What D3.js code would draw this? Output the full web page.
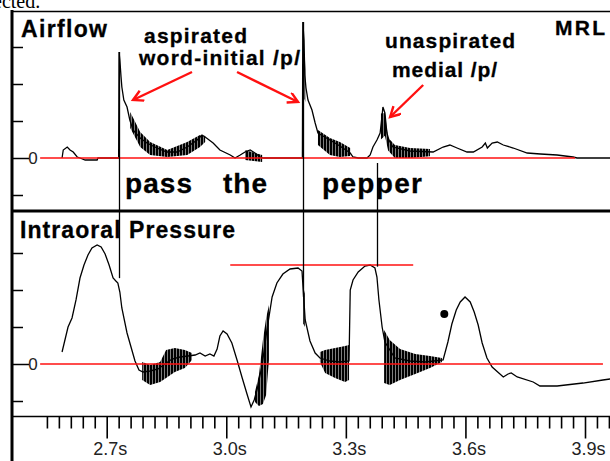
<!DOCTYPE html>
<html><head><meta charset="utf-8">
<script src="https://cdn.jsdelivr.net/npm/d3@7"></script>
<style>body{margin:0;background:#fff}svg{display:block}</style>
</head><body>
<svg id="c" width="610" height="461"></svg>
<script>
// ---------- DATA ----------
const timeTicks = [2.7, 3.0, 3.3, 3.6, 3.9];
const minorStep = 0.03, minorStart = 2.55, minorEnd = 3.96;
const airflowTicks = [-1, 0, 1, 2, 3];
const pressureTicks = [-1, 0, 1, 2, 3];
const words = ["pass", "the", "pepper"];

// airflow trace [time s, value]
const airflow = [[2.588,0],[2.591,0.216],[2.601,0.297],[2.608,0.216],[2.616,0.162],[2.626,0.027],[2.633,0],[2.646,-0.054],[2.676,-0.054],[2.678,0],[2.730,0],[2.731,2.865],[2.733,2.649],[2.736,2.189],[2.738,1.919],[2.743,1.568],[2.751,1.378],[2.758,1.027],[2.766,0.757],[2.784,0.541],[2.801,0.405],[2.826,0.270],[2.851,0.162],[2.877,0.162],[2.902,0.297],[2.927,0.486],[2.939,0.622],[2.947,0.568],[2.967,0.405],[2.984,0.216],[3.010,0.081],[3.022,0],[3.035,0.081],[3.047,0.162],[3.060,0.216],[3.072,0.135],[3.085,0.027],[3.093,0],[3.191,0],[3.192,3.676],[3.195,3.189],[3.197,2.243],[3.200,1.892],[3.205,1.568],[3.215,1.297],[3.223,0.946],[3.230,0.676],[3.260,0.486],[3.285,0.324],[3.311,0.135],[3.318,0.027],[3.331,0],[3.353,0],[3.361,0.081],[3.368,0.297],[3.378,0.486],[3.386,0.676],[3.391,1.162],[3.393,1.378],[3.398,1.216],[3.403,0.676],[3.408,0.486],[3.418,0.297],[3.461,0.189],[3.519,0.162],[3.544,0.297],[3.561,0.351],[3.579,0.270],[3.604,0.162],[3.620,0.162],[3.642,0.297],[3.650,0.405],[3.655,0.270],[3.667,0.405],[3.680,0.432],[3.695,0.351],[3.720,0.270],[3.755,0.135],[3.788,0.108],[3.830,0.081],[3.870,0.027],[3.880,0],[3.963,0]];

// airflow voicing envelopes [time, high, low]
const airflowVoicing = [
  [[2.759,1.243,0.811],[2.784,0.703,0.297],[2.809,0.432,0.081],[2.852,0.216,0.027],[2.902,0.432,0.081],[2.934,0.622,0.297],[2.947,0.595,0.432]],
  [[3.047,0.216,-0.054],[3.090,0.081,-0.108]],
  [[3.196,2.9,1.6],[3.199,2.4,1.5]],
  [[3.230,0.757,0.351],[3.260,0.541,0.081],[3.285,0.432,0.027],[3.311,0.270,0.054]],
  [[3.388,1.20,0.50],[3.398,1.216,0.60],[3.406,0.55,0.20],[3.423,0.35,0.0],[3.461,0.27,0.0],[3.511,0.24,0.05]]
];

// intraoral pressure trace [time s, value]
const pressure = [[2.588,0.324],[2.603,1.0],[2.613,1.243],[2.623,1.730],[2.633,2.324],[2.643,2.676],[2.653,2.946],[2.663,3.135],[2.676,3.216],[2.686,3.162],[2.696,2.973],[2.706,2.676],[2.716,2.324],[2.723,2.243],[2.728,2.189],[2.733,1.946],[2.738,1.514],[2.751,0.838],[2.761,0.459],[2.771,0.081],[2.781,-0.162],[2.791,-0.216],[2.809,-0.189],[2.829,-0.135],[2.846,0],[2.864,0.135],[2.884,0.189],[2.904,0.216],[2.922,0.243],[2.934,0.297],[2.947,0.216],[2.959,0.270],[2.969,0.216],[2.977,0.405],[2.984,0.757],[2.992,0.892],[3.002,0.811],[3.014,0.568],[3.027,0.108],[3.040,-0.378],[3.052,-0.811],[3.062,-1.162],[3.070,-0.973],[3.077,-0.703],[3.090,-0.027],[3.102,0.919],[3.115,1.811],[3.127,2.189],[3.142,2.432],[3.160,2.568],[3.180,2.595],[3.190,2.514],[3.193,2.0],[3.198,1.189],[3.210,0.622],[3.223,0.297],[3.235,0.162],[3.260,0.081],[3.285,0.054],[3.308,0.081],[3.311,2.0],[3.318,2.270],[3.331,2.486],[3.348,2.649],[3.361,2.676],[3.373,2.595],[3.378,2.351],[3.383,1.730],[3.391,1.0],[3.398,0.595],[3.423,0.162],[3.461,0.081],[3.499,0.054],[3.544,0.108],[3.556,0.595],[3.566,1.081],[3.577,1.459],[3.587,1.676],[3.599,1.811],[3.612,1.676],[3.622,1.405],[3.632,1.054],[3.642,0.568],[3.654,0.162],[3.667,-0.081],[3.695,-0.351],[3.707,-0.270],[3.715,-0.243],[3.730,-0.351],[3.770,-0.486],[3.787,-0.595],[3.830,-0.595],[3.895,-0.514],[3.945,-0.432],[3.963,-0.405]];

// pressure voicing envelopes [time, high, low]
const pressureVoicing = [
  [[2.789,0.054,-0.432],[2.809,-0.027,-0.568],[2.834,0.054,-0.486],[2.849,0.378,-0.378],[2.871,0.432,-0.216],[2.896,0.378,-0.108],[2.914,0.297,0.108]],
  [[3.072,-0.757,-1.027],[3.082,-0.297,-1.135],[3.092,0.649,-1.081],[3.100,1.243,-0.838],[3.107,1.595,0.108]],
  [[3.193,2.1,1.1],[3.197,1.9,1.0]],
  [[3.235,0.324,0.054],[3.248,0.378,-0.243],[3.273,0.432,-0.378],[3.298,0.486,-0.486],[3.308,0.514,-0.432]],
  [[3.396,0.919,-0.514],[3.410,0.649,-0.568],[3.436,0.405,-0.432],[3.474,0.270,-0.270],[3.511,0.216,-0.108],[3.541,0.162,0.054]]
];

// cursor lines: time, top (airflow units), bottom (pressure units)
const cursorTime = [2.731, 3.192, 3.378];
const cursorTop = [2.865, 3.676, -0.135];
const cursorBottom = [2.32, 1.81, 2.63];

// red reference lines
const airflowZeroSpan = [2.533, 3.875];
const pressureZeroSpan = [2.533, 3.945];
const peakLevel = 2.676, peakSpan = [3.010, 3.469];
const dot = [3.547, 1.351];

// arrows [t0, v0, t1, v1] in airflow units
const arrows = [[2.914,2.324,2.766,1.568],[3.027,2.324,3.180,1.514],[3.494,1.973,3.411,1.108]];

// ---------- CHART ----------
const svg = d3.select("#c");
const x = d3.scaleLinear().domain([2.7, 3.9]).range([106.7, 585]);
const yA = d3.scaleLinear().domain([0, 1]).range([158, 121]);
const yP = d3.scaleLinear().domain([0, 1]).range([364, 327]);
const RED = "#ff1010";

const defs = svg.append("defs");
defs.append("clipPath").attr("id","cA").append("rect").attr("x",13).attr("y",12).attr("width",597).attr("height",198);
defs.append("clipPath").attr("id","cP").append("rect").attr("x",13).attr("y",212).attr("width",597).attr("height",204);
const pat = defs.append("pattern").attr("id","vs").attr("patternUnits","userSpaceOnUse").attr("width",3).attr("height",6);
pat.append("rect").attr("width",2.5).attr("height",6).attr("fill","#000");
defs.append("marker").attr("id","ah").attr("markerUnits","userSpaceOnUse")
  .attr("markerWidth",14).attr("markerHeight",14).attr("refX",11).attr("refY",6).attr("orient","auto")
  .append("path").attr("d","M1,0.5 L11,6 L1,11.5").attr("fill","none").attr("stroke",RED).attr("stroke-width",2.4);

// caption fragment at top
svg.append("text").attr("x",-7).attr("y",8).attr("font-family","Liberation Serif").attr("font-size",20).text("ected.");

// bands
function drawBands(bands, y, clip){
  const g = svg.append("g").attr("clip-path",`url(#${clip})`);
  const area = d3.area().x(d=>x(d[0])).y0(d=>y(d[2])).y1(d=>y(d[1]));
  bands.forEach(b => g.append("path").attr("d", area(b)).attr("fill","url(#vs)"));
}
drawBands(airflowVoicing, yA, "cA");
drawBands(pressureVoicing, yP, "cP");

// traces
svg.append("path").attr("clip-path","url(#cA)").attr("d", d3.line().x(d=>x(d[0])).y(d=>yA(d[1]))(airflow))
  .attr("fill","none").attr("stroke","#000").attr("stroke-width",1.3);
svg.append("path").attr("clip-path","url(#cP)").attr("d", d3.line().x(d=>x(d[0])).y(d=>yP(d[1]))(pressure))
  .attr("fill","none").attr("stroke","#000").attr("stroke-width",1.3);

// red lines
svg.append("line").attr("x1",x(airflowZeroSpan[0])).attr("x2",x(airflowZeroSpan[1])).attr("y1",yA(0)).attr("y2",yA(0)).attr("stroke",RED).attr("stroke-width",1.6);
svg.append("line").attr("x1",x(pressureZeroSpan[0])).attr("x2",x(pressureZeroSpan[1])).attr("y1",yP(0)).attr("y2",yP(0)).attr("stroke",RED).attr("stroke-width",1.6);
svg.append("line").attr("x1",x(peakSpan[0])).attr("x2",x(peakSpan[1])).attr("y1",yP(peakLevel)).attr("y2",yP(peakLevel)).attr("stroke",RED).attr("stroke-width",1.6);

// cursor lines
cursorTime.forEach((t,i)=>{
  svg.append("line").attr("x1",Math.round(x(t))+0.5).attr("x2",Math.round(x(t))+0.5)
    .attr("y1",yA(cursorTop[i])).attr("y2",yP(cursorBottom[i])).attr("stroke","#000").attr("stroke-width",1.3);
});

// frame
svg.append("line").attr("x1",12).attr("x2",12).attr("y1",10).attr("y2",461).attr("stroke","#000").attr("stroke-width",3);
svg.append("line").attr("x1",11).attr("x2",610).attr("y1",11.5).attr("y2",11.5).attr("stroke","#000").attr("stroke-width",1.5);
svg.append("line").attr("x1",11).attr("x2",610).attr("y1",211).attr("y2",211).attr("stroke","#000").attr("stroke-width",3);
svg.append("line").attr("x1",11).attr("x2",610).attr("y1",416.5).attr("y2",416.5).attr("stroke","#000").attr("stroke-width",1.6);

// left ticks
function leftAxis(scale, ticks){
  const g = svg.append("g").attr("transform","translate(13,0)")
    .call(d3.axisRight(scale).tickValues(ticks).tickSize(10).tickFormat(""));
  g.select(".domain").remove();
  g.selectAll(".tick line").attr("stroke","#000").attr("stroke-width",1.5)
    .attr("x2", d => d === 0 ? 16 : 10);
  svg.append("text").attr("x",33).attr("y",scale(0)+6).attr("text-anchor","middle")
    .attr("font-family","Liberation Sans").attr("font-size",17).attr("fill","#222").text("0");
}
leftAxis(yA, airflowTicks);
leftAxis(yP, pressureTicks);

// bottom axis
const minor = d3.range(0, Math.round((minorEnd-minorStart)/minorStep)+1).map(i => +(minorStart+i*minorStep).toFixed(2))
  .filter(v => !timeTicks.some(m => Math.abs(m-v)<1e-6));
const gMin = svg.append("g").attr("transform","translate(0,416.5)")
  .call(d3.axisBottom(x).tickValues(minor).tickSize(12).tickFormat(""));
gMin.select(".domain").remove();
gMin.selectAll(".tick line").attr("stroke","#000").attr("stroke-width",1.6);
const gMaj = svg.append("g").attr("transform","translate(0,416.5)")
  .call(d3.axisBottom(x).tickValues(timeTicks).tickSize(22).tickPadding(4).tickFormat(d => d.toFixed(1)+"s"));
gMaj.select(".domain").remove();
gMaj.selectAll(".tick line").attr("stroke","#000").attr("stroke-width",1.6);
gMaj.selectAll(".tick text").attr("font-family","Liberation Sans").attr("font-size",18).attr("fill","#222").attr("dx",3);

// labels
function label(str, lx, ly, size, len){
  svg.append("text").attr("x",lx).attr("y",ly).attr("font-family","Liberation Sans").attr("font-weight","bold")
    .attr("font-size",size).attr("fill","#000").attr("stroke","#000").attr("stroke-width",0.3)
    .attr("textLength",len).attr("lengthAdjust","spacing").text(str);
}
label("Airflow", 21, 37, 23, 86);
label("aspirated", 144, 43, 21, 103);
label("word-initial /p/", 139, 65, 21, 161);
label("unaspirated", 385, 48, 21, 130);
label("medial /p/", 392, 77, 21, 105);
label("MRL", 555, 35, 21, 50);
label(words[0], 125, 193, 28, 67);
label(words[1], 223, 193, 28, 44);
label(words[2], 322, 193, 28, 100);
label("Intraoral Pressure", 20, 238, 23, 215);

// arrows
arrows.forEach(a => {
  svg.append("line").attr("x1",x(a[0])).attr("y1",yA(a[1])).attr("x2",x(a[2])).attr("y2",yA(a[3]))
    .attr("stroke",RED).attr("stroke-width",2.4).attr("marker-end","url(#ah)");
});

// dot
svg.append("circle").attr("cx",x(dot[0])).attr("cy",yP(dot[1])).attr("r",4).attr("fill","#000");
</script></body></html>
